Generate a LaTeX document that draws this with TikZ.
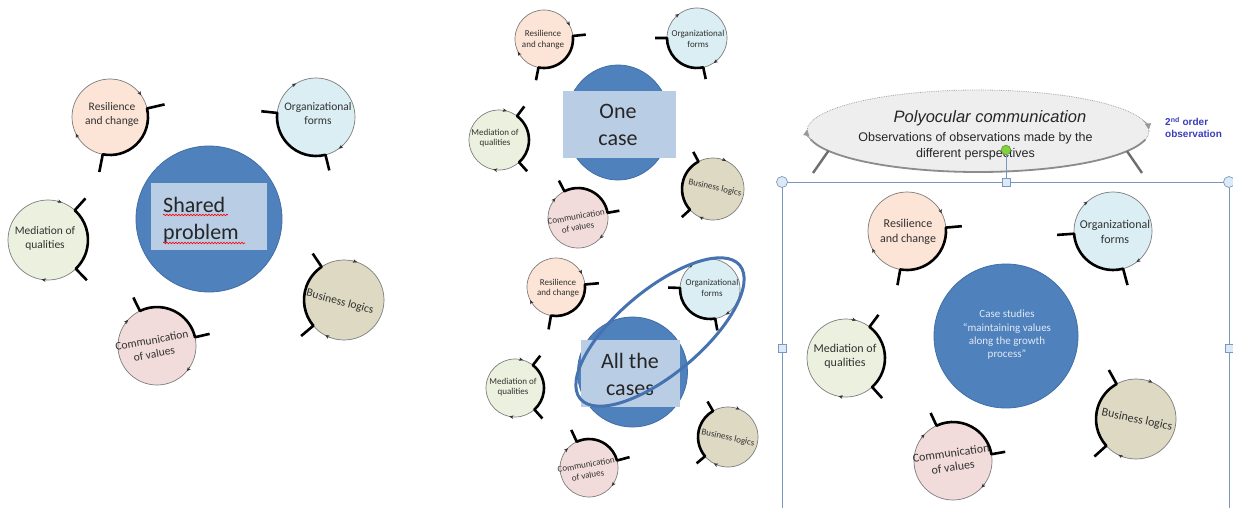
\documentclass[tikz,border=0pt]{standalone}
\usepackage{fontspec}
\setmainfont{Carlito}
\newfontfamily\arialf{Liberation Sans}
\usetikzlibrary{calc,arrows.meta,decorations.pathmorphing}
\definecolor{peach}{RGB}{252,228,214}
\definecolor{orgc}{RGB}{218,238,243}
\definecolor{medc}{RGB}{235,241,222}
\definecolor{comc}{RGB}{242,220,219}
\definecolor{busc}{RGB}{221,217,195}
\definecolor{bigblue}{RGB}{79,129,189}
\definecolor{bigblueline}{RGB}{65,110,165}
\definecolor{boxblue}{RGB}{185,205,229}
\definecolor{ringgray}{RGB}{125,125,125}
\definecolor{lblc}{RGB}{50,50,50}
\definecolor{framec}{RGB}{120,152,192}
\definecolor{handlec}{RGB}{220,234,247}
\definecolor{greenh}{RGB}{130,210,60}
\definecolor{greenline}{RGB}{90,150,50}
\definecolor{ordblue}{RGB}{60,60,190}
\definecolor{polyfill}{RGB}{238,238,238}
\definecolor{polyline}{RGB}{140,140,140}
\definecolor{legc}{RGB}{110,110,110}
\definecolor{ellblue}{RGB}{70,114,176}
\definecolor{casetext}{RGB}{225,233,244}
% #1 name, #2 x, #3 y, #4 radius, #5 fill, #6 arc start, #7 arc end, #8 tick length
\newcommand\persp[8]{%
  \coordinate (#1) at (#2,#3);
  \draw[ring,fill=#5] (#1) circle[radius=#4];
  \draw[brk] ($(#1)+(#6:#4+#8)$) -- ($(#1)+(#6:#4)$)
     arc[start angle=#6,end angle=#7,radius=#4] -- ($(#1)+(#7:#4+#8)$);
  \draw[arrowmark] ($(#1)+(#6-29:#4)$) arc[start angle=#6-29,end angle=#6-22,radius=#4];
  \draw[arrowmark] ($(#1)+(#7+46:#4)$) arc[start angle=#7+46,end angle=#7+53,radius=#4];
}
\begin{document}
\begin{tikzpicture}[x=1pt,y=-1pt,
  ring/.style={draw=ringgray,line width=0.7pt},
  brk/.style={line width=2.6pt,draw=black,line join=round},
  arrowmark/.style={-{Stealth[length=4pt,width=3.6pt]},line width=0.4pt,draw=black!80},
  lbl/.style={align=center,text=lblc,inner sep=0pt},
  lblL/.style={lbl,font=\fontsize{11.5}{14}\selectfont},
  lblS/.style={lbl,font=\fontsize{9}{10.7}\selectfont},
  lblR/.style={lbl,font=\fontsize{12}{14.3}\selectfont},
  bigc/.style={fill=bigblue,draw=bigblueline,line width=0.8pt},
  boxb/.style={fill=boxblue,draw=none,inner sep=0pt},
  bigtxt/.style={font=\fontsize{22}{27}\selectfont,text=black!85,inner sep=0pt},
  wavy/.style={draw=red,line width=0.6pt,decorate,decoration={snake,amplitude=0.8pt,segment length=3pt}},
  selhandle/.style={fill=handlec,draw=framec,line width=0.7pt},
  selframe/.style={draw=framec,line width=0.9pt},
  leg/.style={draw=legc,line width=2.4pt},
  polyarrow/.style={-{Triangle[length=6pt,width=6pt]},draw=gray!80,fill=gray!80,line width=0.6pt},
]
\useasboundingbox (0,0) rectangle (1233,508);
\fill[white] (0,0) rectangle (1233,508);

% ---------------- left panel ----------------
\node[circle,bigc,minimum size=146pt,inner sep=0pt] (spc) at (209,219) {};
\node[boxb,minimum width=116pt,minimum height=67pt] (spbox) at (209,216.5) {};
\node[bigtxt,align=left,anchor=west] (sptxt) at (163,220) {Shared\\problem};
\draw[wavy] (163,215) -- (228,215);
\draw[wavy] (163,243) -- (245,243);

\persp{resL}{110}{117}{38}{peach}{-13}{101}{18}
\persp{orgL}{316}{117}{39}{orgc}{76}{186}{16}
\persp{medL}{48}{240}{40}{medc}{-48}{46}{16}
\persp{comL}{157}{346}{39}{comc}{244}{347}{15}
\persp{busL}{344}{300}{40}{busc}{140}{236}{16}
\node[lblL] (resLt) at (112,114) {Resilience\\and change};
\node[lblL] (orgLt) at (318,114) {Organizational\\forms};
\node[lblL] (medLt) at (45,238) {Mediation of\\qualities};
\node[lblL,rotate=10] (comLt) at (153,347) {Communication\\of values};
\node[lblL,rotate=-15] (busLt) at (340,302) {Business logics};

% ---------------- middle top ----------------
\coordinate (oc) at (618,122.5);
\draw[bigc] (oc) ellipse[x radius=52.5,y radius=57.5];
\node[boxb,minimum width=113pt,minimum height=67pt] (ocbox) at (619.5,124.5) {};
\node[bigtxt,align=center] (octxt) at (618,125) {One\\case};

\persp{resT}{544}{39}{29}{peach}{-6}{101}{13}
\persp{orgT}{697}{38}{30}{orgc}{78}{180}{12}
\persp{medT}{499}{140}{30}{medc}{-53}{48}{12}
\persp{comT}{578}{218}{30}{comc}{243}{350}{12}
\persp{busT}{713}{189}{31}{busc}{138}{242}{11}
\node[lblS] (resTt) at (543,40) {Resilience\\and change};
\node[lblS] (orgTt) at (698,39) {Organizational\\forms};
\node[lblS] (medTt) at (495,138) {Mediation of\\qualities};
\node[lblS,rotate=10] (comTt) at (577,222) {Communication\\of values};
\node[lblS,rotate=-12] (busTt) at (715,188) {Business logics};

% ---------------- middle bottom ----------------
\node[circle,bigc,minimum size=110pt,inner sep=0pt] (acc) at (632.5,372) {};
\node[boxb,minimum width=99pt,minimum height=67pt] (acbox) at (630.5,373.5) {};
\node[bigtxt,align=center] (actxt) at (630,374) {All the\\cases};

\persp{resB}{556}{287}{29}{peach}{-5}{100}{14}
\persp{orgB}{710}{289}{30}{orgc}{80}{182}{12}
\persp{medB}{515}{388}{29}{medc}{-52}{48}{12}
\persp{comB}{589}{468}{29}{comc}{245}{345}{13}
\persp{busB}{728}{437}{30}{busc}{140}{240}{11}
\node[lblS] (resBt) at (558,288) {Resilience\\and change};
\node[lblS] (orgBt) at (712,288) {Organizational\\forms};
\node[lblS] (medBt) at (513,387) {Mediation of\\qualities};
\node[lblS,rotate=10] (comBt) at (587,470) {Communication\\of values};
\node[lblS,rotate=-12] (busBt) at (728,438) {Business logics};

\coordinate (acell) at (660,332);
\draw[ellblue,line width=3pt,rotate around={40:(acell)}] (acell) ellipse[x radius=104,y radius=42];

% ---------------- right panel ----------------
\coordinate (fTL) at (782,182);
\coordinate (fTR) at (1229,182);
\coordinate (fBL) at (782,508);
\coordinate (fBR) at (1229,508);
\coordinate (fTM) at (1006,182);
\draw[selframe] (fBL) -- (fTL) -- (fTR) -- (fBR);

\coordinate (poly) at (978,131);
\fill[polyfill] (poly) ellipse[x radius=171,y radius=41];
\draw[densely dotted,draw=gray!70,line width=0.8pt] (poly) ellipse[x radius=171,y radius=41];
\draw[draw=polyline,line width=1.8pt] ($(poly)+(12:171 and 41)$) arc[start angle=12,end angle=168,x radius=171,y radius=41];
\draw[polyarrow] ($(poly)+(165:171 and 41)$) arc[start angle=165,end angle=182,x radius=171,y radius=41];
\draw[polyarrow] ($(poly)+(-15:171 and 41)$) arc[start angle=-15,end angle=-2,x radius=171,y radius=41];
\coordinate (legLa) at ($(poly)+(151:171 and 41)$);
\coordinate (legLb) at (813,173);
\coordinate (legRa) at ($(poly)+(29.4:171 and 41)$);
\coordinate (legRb) at (1142,173);
\draw[leg] (legLa) -- (legLb);
\draw[leg] (legRa) -- (legRb);
\node[font=\arialf\itshape\fontsize{16.5}{19}\selectfont,text=black!85,inner sep=0pt,anchor=base] (polyt) at (990,122) {Polyocular communication};
\node[font=\arialf\fontsize{12.5}{16}\selectfont,text=black!85,inner sep=0pt,align=center] (polys) at (975.5,146) {Observations of observations made by the\\different perspectives};
\node[font=\arialf\bfseries\fontsize{10}{12}\selectfont,text=ordblue,inner sep=0pt,align=left,anchor=west] (ord) at (1165,127.5) {2\textsuperscript{nd} order\\observation};

\coordinate (rot) at (1006,150);
\draw[draw=framec,line width=0.9pt] (rot) -- (fTM);
\draw[fill=greenh,draw=greenline,line width=0.6pt] (rot) circle[radius=4.8];
\draw[selhandle] (fTL) circle[radius=5.5];
\draw[selhandle] (fTR) circle[radius=5.5];
\node[selhandle,minimum size=8pt,inner sep=0pt] (hT) at (fTM) {};
\node[selhandle,minimum size=8pt,inner sep=0pt] (hL) at (782,348) {};
\node[selhandle,minimum size=8pt,inner sep=0pt] (hR) at (1229,348) {};

\node[circle,bigc,minimum size=144pt,inner sep=0pt] (cs) at (1006,336) {};
\node[font=\fontsize{11}{13.3}\selectfont,text=casetext,align=center,inner sep=0pt] (cst) at (1007,335) {Case studies\\“maintaining values\\along the growth\\process”};

\persp{resR}{907}{231}{39}{peach}{-5}{100}{16}
\persp{orgR}{1113}{231}{39}{orgc}{75}{176}{17}
\persp{medR}{846}{358}{39}{medc}{-53}{48}{15}
\persp{comR}{953}{461}{39}{comc}{245}{350}{14}
\persp{busR}{1136}{419}{40}{busc}{138}{241}{16}
\node[lblR] (resRt) at (908,232) {Resilience\\and change};
\node[lblR] (orgRt) at (1115,232) {Organizational\\forms};
\node[lblR] (medRt) at (845,356) {Mediation of\\qualities};
\node[lblR,rotate=8] (comRt) at (952,460) {Communication\\of values};
\node[lblR,rotate=-12] (busRt) at (1137,420) {Business logics};
\end{tikzpicture}
\end{document}
